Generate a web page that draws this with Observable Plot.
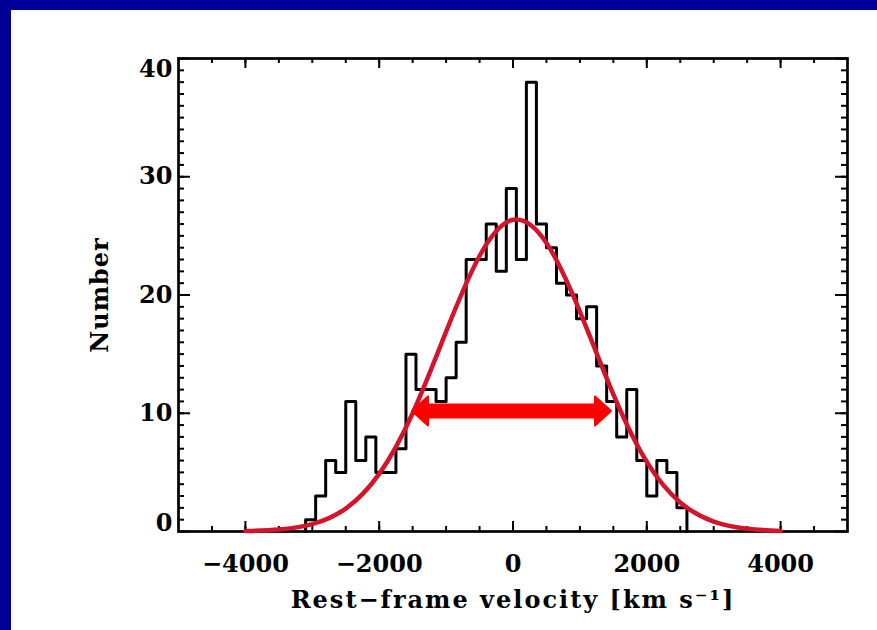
<!DOCTYPE html>
<html><head><meta charset="utf-8">
<script src="https://cdn.jsdelivr.net/npm/d3@7"></script>
<script src="https://cdn.jsdelivr.net/npm/@observablehq/plot@0.6"></script>
<style>
body{margin:0;background:#000099;width:877px;height:630px;overflow:hidden;position:relative}
#paper{position:absolute;left:11px;top:10px;width:866px;height:620px;background:#fff}
#chart{position:absolute;left:0;top:0}
</style></head><body>
<div id="paper"></div><div id="chart"></div>
<script>
// Histogram: left edge of first bin, bin width (km/s) and counts per bin
const binStart = -3100;
const binWidth = 150;
const counts = [1,3,6,5,11,6,8,5,5,7,15,12,12,11,13,16,23,23,26,22,29,23,38,26,24,21,20,18,19,14,11,8,12,6,3,6,5,2];

// Gaussian fit curve
const fitX = [-4000,-3500,-3000,-2500,-2000,-1500,-1000,-500,0,500,1000,1500,2000,2500,3000,3500,4000];
const fitY = [0.04,0.17,0.63,1.94,4.87,10.0,16.9,23.3,26.36,24.4,18.6,11.6,5.89,2.46,0.84,0.24,0.05];

// FWHM arrow
const arrowY = 10.2;
const arrowX = [-1510, 1465];

// Axis ticks and labels
const xTickLabels = [-4000,-2000,0,2000,4000];
const yTickLabels = [0,10,20,30,40];
const xMinor = d3.range(-4500, 4501, 500);
const yMinor = d3.range(1, 40, 1);
const xTitle = "Rest\u2212frame velocity [km s\u207B\u00B9]";
const yTitle = "Number";

const histPts = [{x: binStart, y: 0}]
  .concat(counts.map((c, i) => ({x: binStart + i * binWidth, y: c})))
  .concat([{x: binStart + counts.length * binWidth, y: 0}]);
const fit = fitX.map((x, i) => ({x, y: fitY[i]}));

const W = 877, H = 630, mT = 58, mB = 99, mL = 178, mR = 30;
const frameH = H - mT - mB, frameW = W - mL - mR;
const font = {fontFamily: "'DejaVu Serif', serif", fontWeight: "bold", fontSize: 24};
const fmt = d => d < 0 ? "\u2212" + Math.abs(d) : String(d);

const headRight = {draw(ctx) { ctx.moveTo(0, 0); ctx.lineTo(-16, -14.5); ctx.lineTo(-16, 14.5); ctx.closePath(); }};
const headLeft = {draw(ctx) { ctx.moveTo(0, 0); ctx.lineTo(16, -14.5); ctx.lineTo(16, 14.5); ctx.closePath(); }};

const chart = Plot.plot({
  width: W, height: H,
  marginTop: mT, marginBottom: mB, marginLeft: mL, marginRight: mR,
  style: {background: "transparent", color: "black", overflow: "visible"},
  x: {domain: [-5000, 5000], label: null},
  y: {domain: [0, 40], label: null},
  marks: [
    Plot.tickX(xMinor, {x: d => d, insetTop: frameH - 5, strokeWidth: 2}),
    Plot.tickX(xMinor, {x: d => d, insetBottom: frameH - 5, strokeWidth: 2}),
    Plot.tickX(xTickLabels, {x: d => d, insetTop: frameH - 10, strokeWidth: 2}),
    Plot.tickX(xTickLabels, {x: d => d, insetBottom: frameH - 10, strokeWidth: 2}),
    Plot.tickY(yMinor, {y: d => d, insetRight: frameW - 6, strokeWidth: 2}),
    Plot.tickY(yMinor, {y: d => d, insetLeft: frameW - 6, strokeWidth: 2}),
    Plot.tickY(yTickLabels, {y: d => d, insetRight: frameW - 12, strokeWidth: 2}),
    Plot.tickY(yTickLabels, {y: d => d, insetLeft: frameW - 12, strokeWidth: 2}),
    Plot.frame({stroke: "black", strokeWidth: 2.7}),
    Plot.axisX(xTickLabels, {tickSize: 0, tickPadding: 23, tickFormat: fmt, label: null, ...font}),
    Plot.axisY(yTickLabels.slice(1, 4), {tickSize: 0, tickPadding: 6, label: null, ...font}),
    Plot.axisY([yTickLabels[0]], {tickSize: 0, tickPadding: 6, label: null, dy: -8, ...font}),
    Plot.axisY([yTickLabels[4]], {tickSize: 0, tickPadding: 6, label: null, dy: 11, ...font}),
    Plot.line(histPts, {x: "x", y: "y", curve: "step-after", stroke: "black", strokeWidth: 3}),
    Plot.line(fit, {x: "x", y: "y", curve: "natural", stroke: "#d4142a", strokeWidth: 4.5}),
    Plot.ruleY([arrowY], {x1: arrowX[0], x2: arrowX[1], insetLeft: 10, insetRight: 10, stroke: "#ff0000", strokeWidth: 15}),
    Plot.dot([arrowX[0]], {x: d => d, y: () => arrowY, symbol: headLeft, fill: "#ff0000", stroke: "#ff0000", strokeWidth: 2, strokeLinejoin: "round"}),
    Plot.dot([arrowX[1]], {x: d => d, y: () => arrowY, symbol: headRight, fill: "#ff0000", stroke: "#ff0000", strokeWidth: 2, strokeLinejoin: "round"}),
    Plot.text([xTitle], {frameAnchor: "bottom", dy: 69, lineAnchor: "middle", textAnchor: "middle", text: d => d, ...font}),
    Plot.text([yTitle], {frameAnchor: "left", dx: -78, rotate: -90, lineAnchor: "middle", textAnchor: "middle", text: d => d, ...font})
  ]
});
d3.select(chart).selectAll("text").each(function() {
  const t = this.textContent;
  if (t === xTitle) this.style.letterSpacing = "2px";
  if (t === yTitle) this.style.letterSpacing = "1px";
});
document.getElementById("chart").appendChild(chart);
</script>
</body></html>
